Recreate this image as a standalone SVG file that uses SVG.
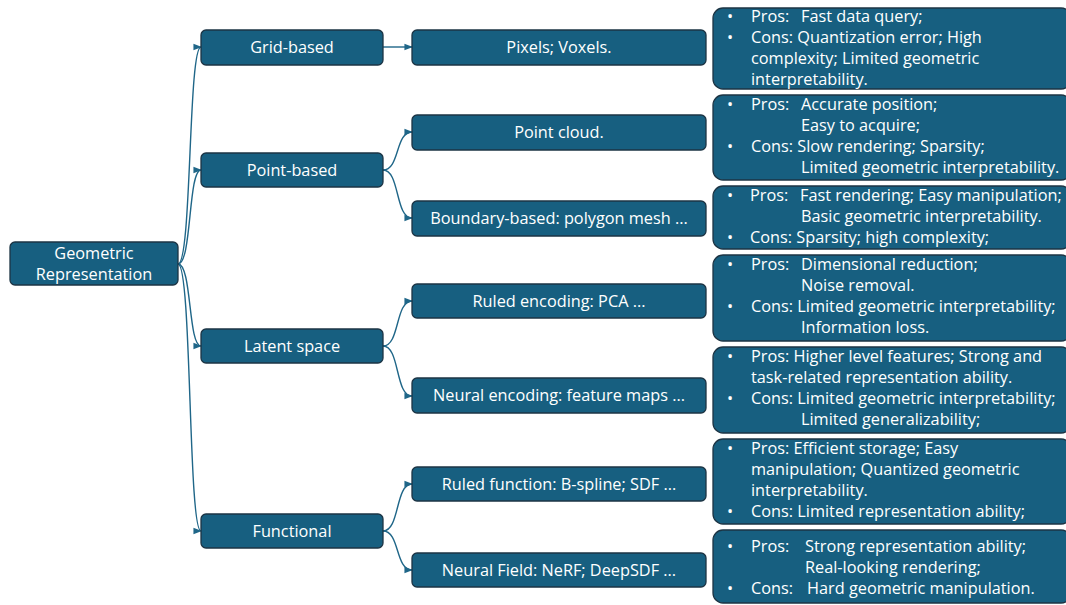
<svg xmlns="http://www.w3.org/2000/svg" width="1066" height="605" viewBox="0 0 1066 605">
<style>
.n{fill:#175f80;stroke:#1c3444;stroke-width:1.3}
.t{fill:#ffffff;font-family:"Open Sans","Noto Sans",sans-serif;font-size:16.3px}
.c{text-anchor:middle}
.e{fill:none;stroke:#1f6688;stroke-width:1.4}
</style>
<defs>
<marker id="a" viewBox="0 0 10 10" refX="9" refY="5" markerWidth="6" markerHeight="6" orient="auto">
<path d="M0,1 L10,5 L0,9 z" fill="#1f6688"/>
</marker>
</defs>
<rect width="1066" height="605" fill="#ffffff"/>
<g id="connectors">
<path class="e" marker-end="url(#a)" d="M178,264 C192,264 188,47 201,47"/>
<path class="e" marker-end="url(#a)" d="M178,264 C192,264 188,170 201,170"/>
<path class="e" marker-end="url(#a)" d="M178,264 C192,264 188,346 201,346"/>
<path class="e" marker-end="url(#a)" d="M178,264 C192,264 188,531 201,531"/>
<path class="e" marker-end="url(#a)" d="M383,47 L412,47"/>
<path class="e" marker-end="url(#a)" d="M383,170 C400,170 395,132 412,132"/>
<path class="e" marker-end="url(#a)" d="M383,170 C400,170 395,218 412,218"/>
<path class="e" marker-end="url(#a)" d="M383,346 C400,346 395,301 412,301"/>
<path class="e" marker-end="url(#a)" d="M383,346 C400,346 395,396 412,396"/>
<path class="e" marker-end="url(#a)" d="M383,531 C400,531 395,484 412,484"/>
<path class="e" marker-end="url(#a)" d="M383,531 C400,531 395,570 412,570"/>
</g>
<g id="root"><rect class="n" x="10" y="242" width="168" height="43" rx="5"/>
<text class="t c" x="94" y="259">Geometric</text><text class="t c" x="94" y="280">Representation</text></g>
<g id="grid"><rect class="n" x="201" y="30" width="182" height="35" rx="5"/><text class="t c" x="292" y="53">Grid-based</text></g>
<g id="point"><rect class="n" x="201" y="153" width="182" height="34" rx="5"/><text class="t c" x="292" y="176">Point-based</text></g>
<g id="latent"><rect class="n" x="201" y="329" width="182" height="34" rx="5"/><text class="t c" x="292" y="352">Latent space</text></g>
<g id="functional"><rect class="n" x="201" y="514" width="182" height="34" rx="5"/><text class="t c" x="292" y="537">Functional</text></g>
<g id="pixels"><rect class="n" x="412" y="30" width="294" height="35" rx="5"/><text class="t c" x="559" y="53">Pixels; Voxels.</text></g>
<g id="pointcloud"><rect class="n" x="412" y="115" width="294" height="35" rx="5"/><text class="t c" x="559" y="138">Point cloud.</text></g>
<g id="boundary"><rect class="n" x="412" y="201" width="294" height="35" rx="5"/><text class="t c" x="559" y="224">Boundary-based: polygon mesh ...</text></g>
<g id="ruledenc"><rect class="n" x="412" y="284" width="294" height="34" rx="5"/><text class="t c" x="559" y="307">Ruled encoding: PCA ...</text></g>
<g id="neuralenc"><rect class="n" x="412" y="378" width="294" height="35" rx="5"/><text class="t c" x="559" y="401">Neural encoding: feature maps ...</text></g>
<g id="ruledfunc"><rect class="n" x="412" y="467" width="294" height="34" rx="5"/><text class="t c" x="559" y="490">Ruled function: B-spline; SDF ...</text></g>
<g id="neuralfield"><rect class="n" x="412" y="553" width="294" height="34" rx="5"/><text class="t c" x="559" y="576">Neural Field: NeRF; DeepSDF ...</text></g>
<g id="pc1"><rect class="n" x="713" y="8" width="358" height="81" rx="10"/>
<text class="t" x="727" y="22">•</text><text class="t" x="751" y="22">Pros:</text><text class="t" x="801" y="22">Fast data query;</text>
<text class="t" x="727" y="43">•</text><text class="t" x="751" y="43">Cons: Quantization error; High</text>
<text class="t" x="751" y="64">complexity; Limited geometric</text>
<text class="t" x="751" y="85">interpretability.</text></g>
<g id="pc2"><rect class="n" x="713" y="95" width="358" height="85" rx="10"/>
<text class="t" x="727" y="110">•</text><text class="t" x="751" y="110">Pros:</text><text class="t" x="801" y="110">Accurate position;</text>
<text class="t" x="801" y="131">Easy to acquire;</text>
<text class="t" x="727" y="152">•</text><text class="t" x="751" y="152">Cons: Slow rendering; Sparsity;</text>
<text class="t" x="801" y="173">Limited geometric interpretability.</text></g>
<g id="pc3"><rect class="n" x="713" y="186" width="358" height="63" rx="10"/>
<text class="t" x="727" y="201">•</text><text class="t" x="750" y="201">Pros:</text><text class="t" x="800" y="201">Fast rendering; Easy manipulation;</text>
<text class="t" x="801" y="222">Basic geometric interpretability.</text>
<text class="t" x="727" y="243">•</text><text class="t" x="750" y="243">Cons: Sparsity; high complexity;</text></g>
<g id="pc4"><rect class="n" x="713" y="255" width="358" height="86" rx="10"/>
<text class="t" x="727" y="270">•</text><text class="t" x="751" y="270">Pros:</text><text class="t" x="801" y="270">Dimensional reduction;</text>
<text class="t" x="801" y="291">Noise removal.</text>
<text class="t" x="727" y="312">•</text><text class="t" x="751" y="312">Cons: Limited geometric interpretability;</text>
<text class="t" x="801" y="333">Information loss.</text></g>
<g id="pc5"><rect class="n" x="713" y="347" width="358" height="86" rx="10"/>
<text class="t" x="727" y="362">•</text><text class="t" x="751" y="362">Pros: Higher level features; Strong and</text>
<text class="t" x="751" y="383">task-related representation ability.</text>
<text class="t" x="727" y="404">•</text><text class="t" x="751" y="404">Cons: Limited geometric interpretability;</text>
<text class="t" x="801" y="425">Limited generalizability;</text></g>
<g id="pc6"><rect class="n" x="713" y="439" width="358" height="85" rx="10"/>
<text class="t" x="727" y="454">•</text><text class="t" x="751" y="454">Pros: Efficient storage; Easy</text>
<text class="t" x="751" y="475">manipulation; Quantized geometric</text>
<text class="t" x="751" y="496">interpretability.</text>
<text class="t" x="727" y="517">•</text><text class="t" x="751" y="517">Cons: Limited representation ability;</text></g>
<g id="pc7"><rect class="n" x="713" y="530" width="358" height="73" rx="10"/>
<text class="t" x="727" y="552">•</text><text class="t" x="751" y="552">Pros:</text><text class="t" x="805" y="552">Strong representation ability;</text>
<text class="t" x="805" y="573">Real-looking rendering;</text>
<text class="t" x="727" y="594">•</text><text class="t" x="751" y="594">Cons:</text><text class="t" x="807" y="594">Hard geometric manipulation.</text></g>
</svg>
